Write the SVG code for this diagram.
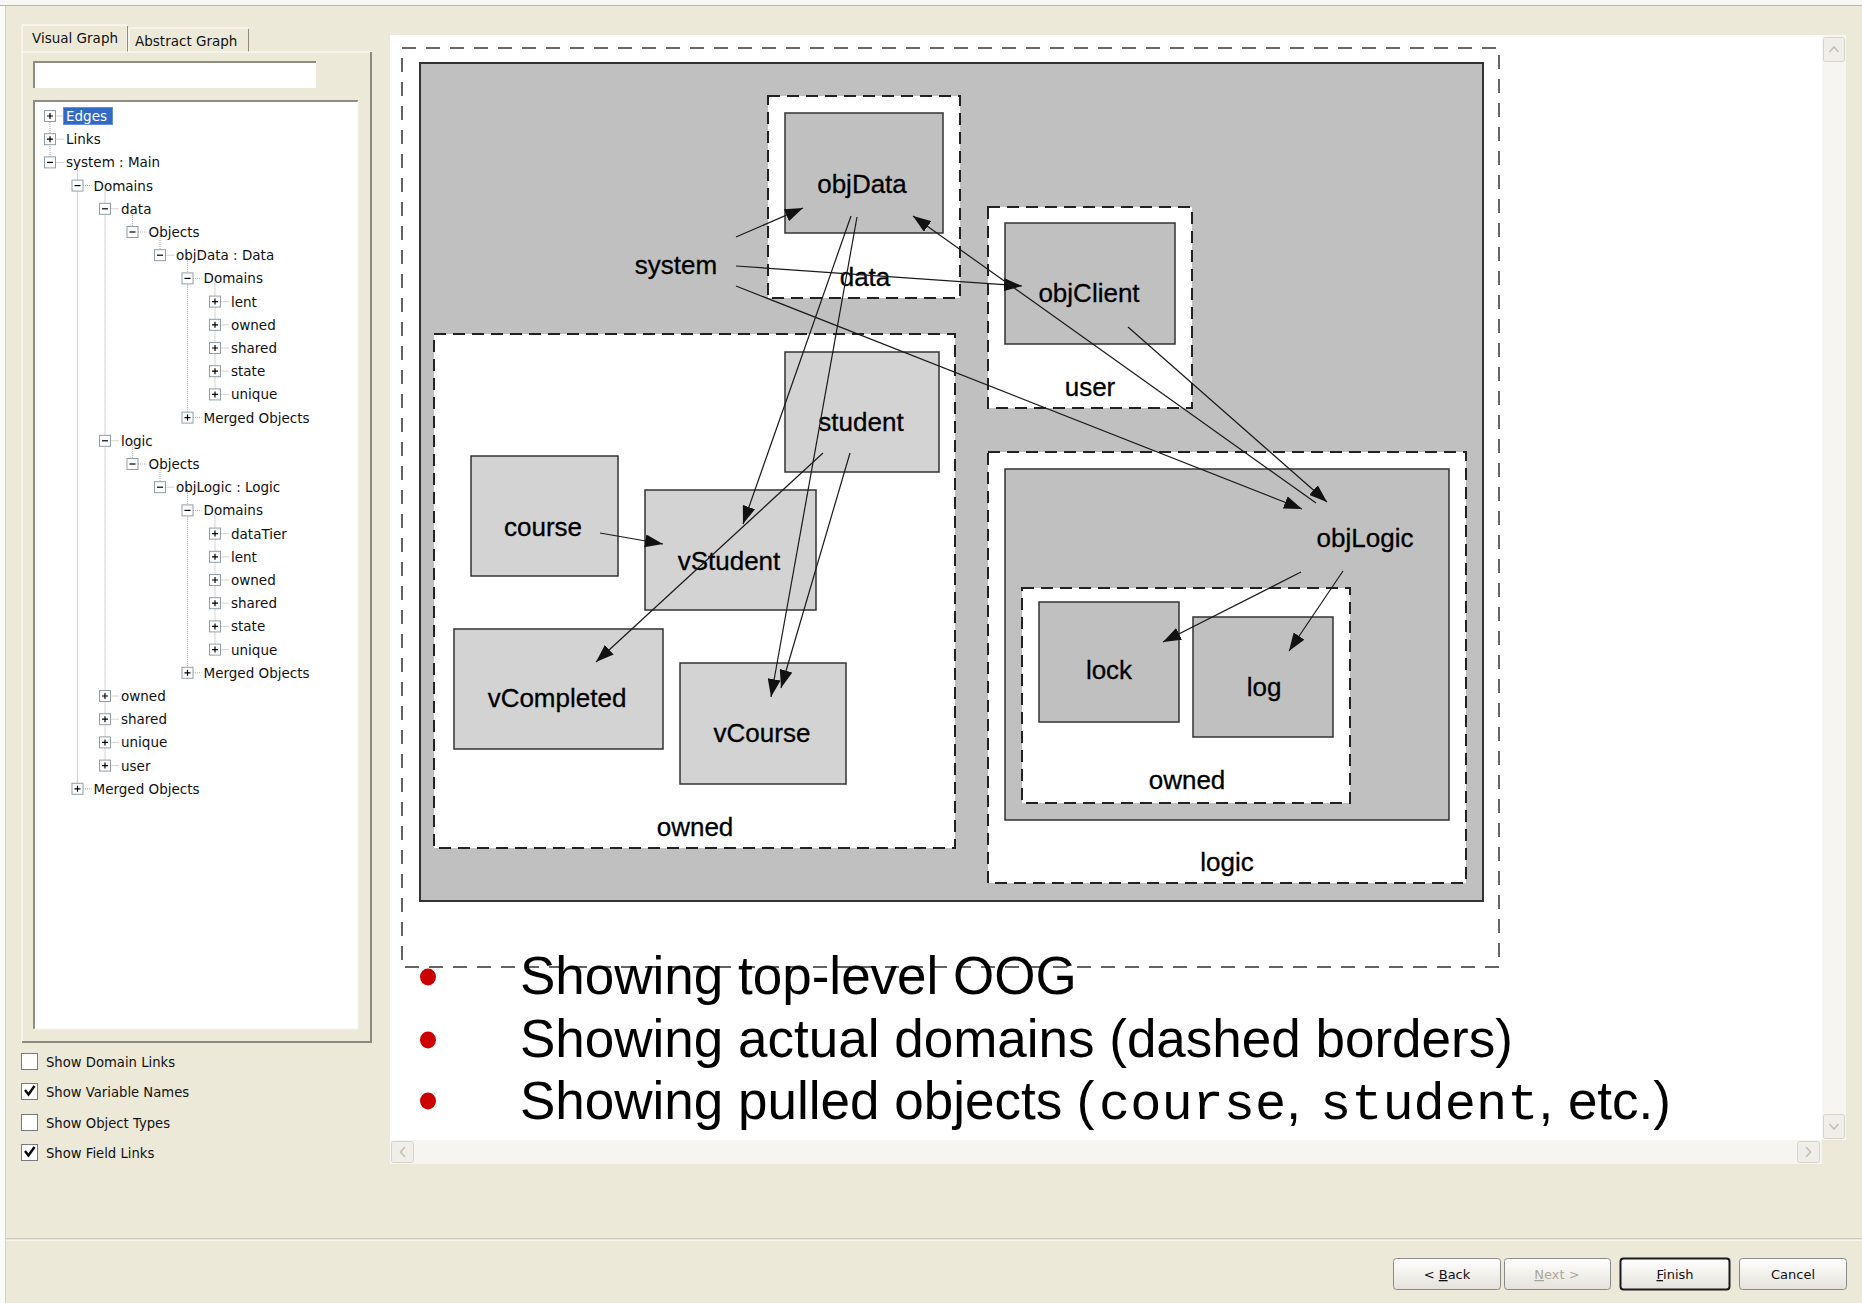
<svg xmlns="http://www.w3.org/2000/svg" width="1862" height="1303" viewBox="0 0 1862 1303">
  <defs>
    <style>
      .ui{font-family:"DejaVu Sans",Verdana,sans-serif;font-size:13.5px;fill:#111}
      .chk{font-family:"DejaVu Sans",Verdana,sans-serif;font-size:13.2px;fill:#111}
      .lbl{font-family:"Liberation Sans",Arial,sans-serif;font-size:26px;fill:#000;stroke:#000;stroke-width:0.3;text-anchor:middle}
      .dom{fill:#fff;stroke:#222;stroke-width:2;stroke-dasharray:12 7}
      .obj{fill:#c0c0c0;stroke:#333;stroke-width:1.5}
      .objl{fill:#d3d3d3;stroke:#333;stroke-width:1.5}
      .edge{fill:none;stroke:#1a1a1a;stroke-width:1.2;marker-end:url(#ah)}
      .dot{fill:none;stroke:#a8a8a8;stroke-width:1;stroke-dasharray:1 1}
      .bul{font-family:"Liberation Sans",Arial,sans-serif;font-size:53px;fill:#000}
      .mono{font-family:"Liberation Mono","Courier New",monospace;font-size:52px}
      .btn{fill:url(#btng);stroke:#8a8a86;stroke-width:1}
      .btxt{font-family:"DejaVu Sans",Verdana,sans-serif;font-size:13px;text-anchor:middle;fill:#111}
      .cb{fill:#fff;stroke:#7a7a7a;stroke-width:1}
      .sbtn{fill:#efeee8;stroke:#d6d4ca;stroke-width:1}
      .chev{fill:none;stroke:#c4c1b3;stroke-width:1.6}
    </style>
    <marker id="ah" markerWidth="18" markerHeight="13" refX="18" refY="6.5" orient="auto" markerUnits="userSpaceOnUse">
      <path d="M0,0 L18,6.5 L0,13 z" fill="#111"/>
    </marker>
    <linearGradient id="btng" x1="0" y1="0" x2="0" y2="1">
      <stop offset="0" stop-color="#ffffff"/>
      <stop offset="1" stop-color="#e4e2da"/>
    </linearGradient>
    <!-- tree expander boxes -->
    <g id="tp">
      <rect x="-5.5" y="-5.5" width="11" height="11" fill="#fff" stroke="#8f9ea6"/>
      <path d="M-3,0H3M0,-3V3" stroke="#000" stroke-width="1.2"/>
    </g>
    <g id="tm">
      <rect x="-5.5" y="-5.5" width="11" height="11" fill="#fff" stroke="#8f9ea6"/>
      <path d="M-3,0H3" stroke="#000" stroke-width="1.2"/>
    </g>
  </defs>

  <!-- window background -->
  <rect x="0" y="0" width="1862" height="1303" fill="#ece9d8"/>
  <rect x="0" y="0" width="1862" height="5" fill="#f6f6f3"/>
  <line x1="0" y1="5.5" x2="1862" y2="5.5" stroke="#b9b6a8"/>
  <rect x="0" y="6" width="5" height="1297" fill="#fbfbf9"/>
  <line x1="5.5" y1="6" x2="5.5" y2="1303" stroke="#d5d2c4"/>

  <!-- tabs -->
  <g id="tabs">
    <path d="M22,52 V25 H127 V52" fill="#ece9d8" stroke="#fff"/>
    <line x1="127.5" y1="26" x2="127.5" y2="52" stroke="#8c8a7e"/>
    <text class="ui" x="32" y="43" font-size="13">Visual Graph</text>
    <path d="M129,52 V28 H248" fill="none" stroke="#fff"/>
    <line x1="248.5" y1="29" x2="248.5" y2="52" stroke="#8c8a7e"/>
    <text class="ui" x="135" y="46" font-size="13.5">Abstract Graph</text>
  </g>

  <!-- tab panel -->
  <g id="panel">
    <path d="M22,1042 V52 H371" fill="none" stroke="#fff"/>
    <path d="M371,52 V1042 H22" fill="none" stroke="#8c8a7e" stroke-width="2"/>
    <!-- filter field -->
    <rect x="34" y="62" width="282" height="26" fill="#fff"/>
    <path d="M34,88 V62 H316" fill="none" stroke="#8f8d82" stroke-width="2"/>
    <!-- tree box -->
    <rect x="34" y="101" width="324" height="928" fill="#fff"/>
    <path d="M34,1029 V101 H358" fill="none" stroke="#8f8d82" stroke-width="2"/>
    <path d="M358,101 V1029 H34" fill="none" stroke="#f4f3ee" stroke-width="1"/>
  </g>

  <!-- tree -->
  <g id="tree">
    <path class="dot" d="M50,116V162.4 M77.5,162.4V788.8 M105,185.6V765.6 M132.5,208.8V232 M132.5,440.8V464 M160,232V255.2 M160,464V487.2 M187.5,255.2V417.6 M187.5,487.2V672.8 M215,278.4V394.4 M215,510.4V649.6"/>
    <path class="dot" d="M55.5,116H63 M55.5,139.2H64 M55.5,162.4H64 M83,185.6H91.5 M110.5,208.8H119 M138,232H146.5 M165.5,255.2H174 M193,278.4H201.5 M220.5,301.6H229 M220.5,324.8H229 M220.5,348H229 M220.5,371.2H229 M220.5,394.4H229 M193,417.6H201.5 M110.5,440.8H119 M138,464H146.5 M165.5,487.2H174 M193,510.4H201.5 M220.5,533.6H229 M220.5,556.8H229 M220.5,580H229 M220.5,603.2H229 M220.5,626.4H229 M220.5,649.6H229 M193,672.8H201.5 M110.5,696H119 M110.5,719.2H119 M110.5,742.4H119 M110.5,765.6H119 M83,788.8H91.5"/>

    <rect x="63" y="107" width="50" height="18" fill="#316ac5"/>
    <rect x="63.5" y="107.5" width="49" height="17" fill="none" stroke="#9ab5e0" stroke-dasharray="1 1"/>

    <use href="#tp" x="50" y="116"/><text class="ui" x="66" y="121" style="fill:#fff">Edges</text>
    <use href="#tp" x="50" y="139.2"/><text class="ui" x="66" y="144.2">Links</text>
    <use href="#tm" x="50" y="162.4"/><text class="ui" x="66" y="167.4">system : Main</text>
    <use href="#tm" x="77.5" y="185.6"/><text class="ui" x="93.5" y="190.6">Domains</text>
    <use href="#tm" x="105" y="208.8"/><text class="ui" x="121" y="213.8">data</text>
    <use href="#tm" x="132.5" y="232"/><text class="ui" x="148.5" y="237">Objects</text>
    <use href="#tm" x="160" y="255.2"/><text class="ui" x="176" y="260.2">objData : Data</text>
    <use href="#tm" x="187.5" y="278.4"/><text class="ui" x="203.5" y="283.4">Domains</text>
    <use href="#tp" x="215" y="301.6"/><text class="ui" x="231" y="306.6">lent</text>
    <use href="#tp" x="215" y="324.8"/><text class="ui" x="231" y="329.8">owned</text>
    <use href="#tp" x="215" y="348"/><text class="ui" x="231" y="353">shared</text>
    <use href="#tp" x="215" y="371.2"/><text class="ui" x="231" y="376.2">state</text>
    <use href="#tp" x="215" y="394.4"/><text class="ui" x="231" y="399.4">unique</text>
    <use href="#tp" x="187.5" y="417.6"/><text class="ui" x="203.5" y="422.6">Merged Objects</text>
    <use href="#tm" x="105" y="440.8"/><text class="ui" x="121" y="445.8">logic</text>
    <use href="#tm" x="132.5" y="464"/><text class="ui" x="148.5" y="469">Objects</text>
    <use href="#tm" x="160" y="487.2"/><text class="ui" x="176" y="492.2">objLogic : Logic</text>
    <use href="#tm" x="187.5" y="510.4"/><text class="ui" x="203.5" y="515.4">Domains</text>
    <use href="#tp" x="215" y="533.6"/><text class="ui" x="231" y="538.6">dataTier</text>
    <use href="#tp" x="215" y="556.8"/><text class="ui" x="231" y="561.8">lent</text>
    <use href="#tp" x="215" y="580"/><text class="ui" x="231" y="585">owned</text>
    <use href="#tp" x="215" y="603.2"/><text class="ui" x="231" y="608.2">shared</text>
    <use href="#tp" x="215" y="626.4"/><text class="ui" x="231" y="631.4">state</text>
    <use href="#tp" x="215" y="649.6"/><text class="ui" x="231" y="654.6">unique</text>
    <use href="#tp" x="187.5" y="672.8"/><text class="ui" x="203.5" y="677.8">Merged Objects</text>
    <use href="#tp" x="105" y="696"/><text class="ui" x="121" y="701">owned</text>
    <use href="#tp" x="105" y="719.2"/><text class="ui" x="121" y="724.2">shared</text>
    <use href="#tp" x="105" y="742.4"/><text class="ui" x="121" y="747.4">unique</text>
    <use href="#tp" x="105" y="765.6"/><text class="ui" x="121" y="770.6">user</text>
    <use href="#tp" x="77.5" y="788.8"/><text class="ui" x="93.5" y="793.8">Merged Objects</text>
  </g>

  <!-- option checkboxes -->
  <g id="options">
    <rect class="cb" x="21.5" y="1053.5" width="16" height="16"/>
    <text class="chk" x="46" y="1067">Show Domain Links</text>
    <rect class="cb" x="21.5" y="1083.5" width="16" height="16"/>
    <path d="M25,1090 L28.5,1094.5 L34.5,1086" fill="none" stroke="#000" stroke-width="2.4"/>
    <text class="chk" x="46" y="1097">Show Variable Names</text>
    <rect class="cb" x="21.5" y="1114.5" width="16" height="16"/>
    <text class="chk" x="46" y="1128">Show Object Types</text>
    <rect class="cb" x="21.5" y="1144.5" width="16" height="16"/>
    <path d="M25,1151 L28.5,1155.5 L34.5,1147" fill="none" stroke="#000" stroke-width="2.4"/>
    <text class="chk" x="46" y="1158">Show Field Links</text>
  </g>

  <!-- graph canvas with scrollbars -->
  <g id="canvas">
    <rect x="390" y="35" width="1432" height="1105" fill="#fff"/>
    <rect x="1822" y="35" width="24" height="1105" fill="#f6f5f1"/>
    <rect class="sbtn" x="1823.5" y="37.5" width="21" height="24" rx="2"/>
    <polyline class="chev" points="1829.5,52 1834,47 1838.5,52"/>
    <rect class="sbtn" x="1823.5" y="1114.5" width="21" height="24" rx="2"/>
    <polyline class="chev" points="1829.5,1124 1834,1129 1838.5,1124"/>
    <rect x="390" y="1140" width="1432" height="24" fill="#f6f5f1"/>
    <rect class="sbtn" x="391.5" y="1141.5" width="22" height="21" rx="2"/>
    <polyline class="chev" points="405,1147 400.5,1152 405,1157"/>
    <rect class="sbtn" x="1797.5" y="1141.5" width="22" height="21" rx="2"/>
    <polyline class="chev" points="1806,1147 1810.5,1152 1806,1157"/>
  </g>

  <!-- ownership object graph -->
  <g id="graph">
    <rect id="outer" x="402" y="48" width="1097" height="919" fill="none" stroke="#333" stroke-width="1.5" stroke-dasharray="14 10"/>
    <g id="system">
      <rect x="420" y="63" width="1063" height="838" fill="#c0c0c0" stroke="#333" stroke-width="2"/>
      <text class="lbl" x="676" y="274">system</text>
    </g>
    <g id="dom-data">
      <rect class="dom" x="768" y="96" width="192" height="202"/>
      <text class="lbl" x="865" y="286">data</text>
    </g>
    <g id="objData">
      <rect class="obj" x="785" y="113" width="158" height="120"/>
      <text class="lbl" x="862" y="193">objData</text>
    </g>
    <g id="dom-user">
      <rect class="dom" x="988" y="207" width="204" height="201"/>
      <text class="lbl" x="1090" y="396">user</text>
    </g>
    <g id="objClient">
      <rect class="obj" x="1005" y="223" width="170" height="121"/>
      <text class="lbl" x="1089" y="302">objClient</text>
    </g>
    <g id="dom-owned">
      <rect class="dom" x="434" y="334" width="521" height="514"/>
      <text class="lbl" x="695" y="836">owned</text>
    </g>
    <g id="student">
      <rect class="objl" x="785" y="352" width="154" height="120"/>
      <text class="lbl" x="861" y="431">student</text>
    </g>
    <g id="course">
      <rect class="objl" x="471" y="456" width="147" height="120"/>
      <text class="lbl" x="543" y="536">course</text>
    </g>
    <g id="vStudent">
      <rect class="objl" x="645" y="490" width="171" height="120"/>
      <text class="lbl" x="729" y="570">vStudent</text>
    </g>
    <g id="vCompleted">
      <rect class="objl" x="454" y="629" width="209" height="120"/>
      <text class="lbl" x="557" y="707">vCompleted</text>
    </g>
    <g id="vCourse">
      <rect class="objl" x="680" y="663" width="166" height="121"/>
      <text class="lbl" x="762" y="742">vCourse</text>
    </g>
    <g id="dom-logic">
      <rect class="dom" x="988" y="452" width="478" height="431"/>
      <text class="lbl" x="1227" y="871">logic</text>
    </g>
    <g id="objLogic">
      <rect class="obj" x="1005" y="469" width="444" height="351"/>
      <text class="lbl" x="1365" y="547">objLogic</text>
    </g>
    <g id="dom-logic-owned">
      <rect class="dom" x="1022" y="588" width="328" height="215"/>
      <text class="lbl" x="1187" y="789">owned</text>
    </g>
    <g id="lock">
      <rect class="obj" x="1039" y="602" width="140" height="120"/>
      <text class="lbl" x="1109" y="679">lock</text>
    </g>
    <g id="log">
      <rect class="obj" x="1193" y="617" width="140" height="120"/>
      <text class="lbl" x="1264" y="696">log</text>
    </g>
  </g>

  <!-- field links -->
  <g id="connectors">
    <line class="edge" x1="736" y1="237" x2="803" y2="208"/>
    <line class="edge" x1="736" y1="266" x2="1022" y2="286"/>
    <line class="edge" x1="736" y1="286" x2="1302" y2="509"/>
    <line class="edge" x1="1316" y1="503" x2="913" y2="216"/>
    <line class="edge" x1="1128" y1="327" x2="1327" y2="502"/>
    <line class="edge" x1="851" y1="216" x2="743" y2="524"/>
    <line class="edge" x1="857" y1="217" x2="771" y2="697"/>
    <line class="edge" x1="823" y1="453" x2="596" y2="662"/>
    <line class="edge" x1="850" y1="453" x2="781" y2="688"/>
    <line class="edge" x1="600" y1="533" x2="663" y2="544"/>
    <line class="edge" x1="1301" y1="572" x2="1163" y2="642"/>
    <line class="edge" x1="1343" y1="571" x2="1289" y2="651"/>
  </g>

  <!-- bullet notes -->
  <g id="notes">
    <ellipse cx="428" cy="977" rx="8" ry="8.5" fill="#cc0000"/>
    <ellipse cx="428" cy="1040" rx="8" ry="8.5" fill="#cc0000"/>
    <ellipse cx="428" cy="1101" rx="8" ry="8.5" fill="#cc0000"/>
    <text class="bul" x="520" y="994">Showing top-level OOG</text>
    <text class="bul" x="520" y="1057">Showing actual domains (dashed borders)</text>
    <text class="bul" x="520" y="1119">Showing pulled objects (<tspan class="mono" x="1099">course</tspan>, <tspan class="mono" x="1320">student</tspan>, etc.)</text>
  </g>

  <!-- wizard footer -->
  <g id="footer">
    <line x1="6" y1="1239" x2="1862" y2="1239" stroke="#aca899"/>
    <line x1="6" y1="1240" x2="1862" y2="1240" stroke="#fff"/>
    <rect class="btn" x="1393.5" y="1258.5" width="107" height="31" rx="3"/>
    <text class="btxt" x="1447" y="1279">&lt; <tspan text-decoration="underline">B</tspan>ack</text>
    <rect class="btn" x="1504.5" y="1258.5" width="106" height="31" rx="3"/>
    <text class="btxt" x="1557" y="1279" style="fill:#aca899"><tspan text-decoration="underline">N</tspan>ext &gt;</text>
    <rect class="btn" x="1620.5" y="1258.5" width="109" height="31" rx="3" style="stroke:#1a1a1a;stroke-width:2"/>
    <text class="btxt" x="1675" y="1279"><tspan text-decoration="underline">F</tspan>inish</text>
    <rect class="btn" x="1739.5" y="1258.5" width="107" height="31" rx="3"/>
    <text class="btxt" x="1793" y="1279">Cancel</text>
  </g>
</svg>
